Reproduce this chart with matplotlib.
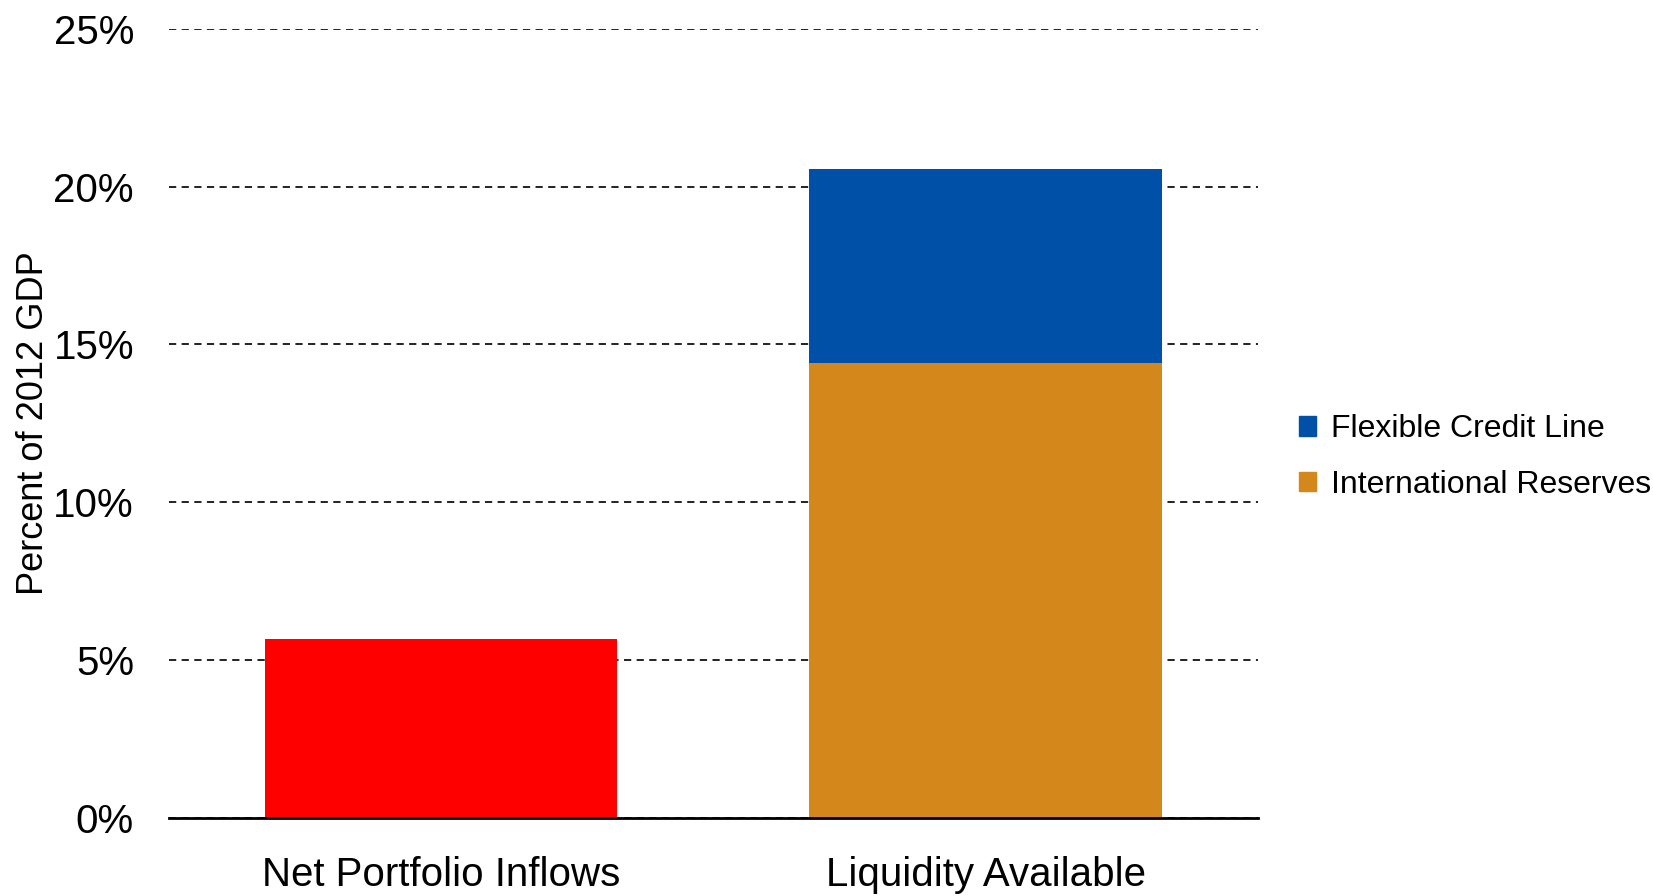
import matplotlib
matplotlib.use("Agg")
import matplotlib.pyplot as plt
from matplotlib.patches import Patch

plt.rcParams['font.family'] = ['Liberation Sans Narrow', 'Liberation Sans', 'DejaVu Sans']

categories = ['Net Portfolio Inflows', 'Liquidity Available']
inflows = [5.67, 0]
reserves = [0, 14.4]
fcl = [0, 6.15]

fig = plt.figure(figsize=(16.53, 8.96), dpi=100)
ax = fig.add_axes([0.102, 0.087, 0.659, 0.881])

x = [0, 1]
w = 0.647
ax.bar(x[0], inflows[0], width=w, color='#FF0000', zorder=3)
ax.bar(x[1], reserves[1], width=w, color='#D4881C', zorder=3)
ax.bar(x[1], fcl[1], bottom=reserves[1], width=w, color='#0050A8', zorder=3)

ax.set_xlim(-0.5, 1.5)
ax.set_ylim(0, 25)
ax.set_yticks([0, 5, 10, 15, 20, 25])
ax.set_yticklabels(['0%', '5%', '10%', '15%', '20%', '25%'])
ax.set_xticks(x)
ax.set_xticklabels(categories)
ax.tick_params(axis='both', length=0, labelsize=29)
ax.tick_params(axis='x', pad=27)
ax.tick_params(axis='y', pad=25)
ax.yaxis.grid(True, linestyle=(0, (4, 3)), color='#111111', linewidth=1.3, zorder=0)
for s in ['top', 'right', 'left']:
    ax.spines[s].set_visible(False)
ax.spines['bottom'].set_linewidth(2)
ax.spines['bottom'].set_zorder(4)
ax.set_ylabel('Percent of 2012 GDP', fontsize=26)
ax.yaxis.set_label_coords(-0.108, 0.5)

handles = [Patch(color='#0050A8'), Patch(color='#D4881C')]
fig.legend(handles, ['Flexible Credit Line', 'International Reserves'],
           loc='center left', bbox_to_anchor=(0.778, 0.49), frameon=False,
           fontsize=23, handlelength=0.55, handleheight=0.55, handletextpad=0.45,
           labelspacing=0.8, borderaxespad=0)

fig.savefig('out.png', dpi=100)
